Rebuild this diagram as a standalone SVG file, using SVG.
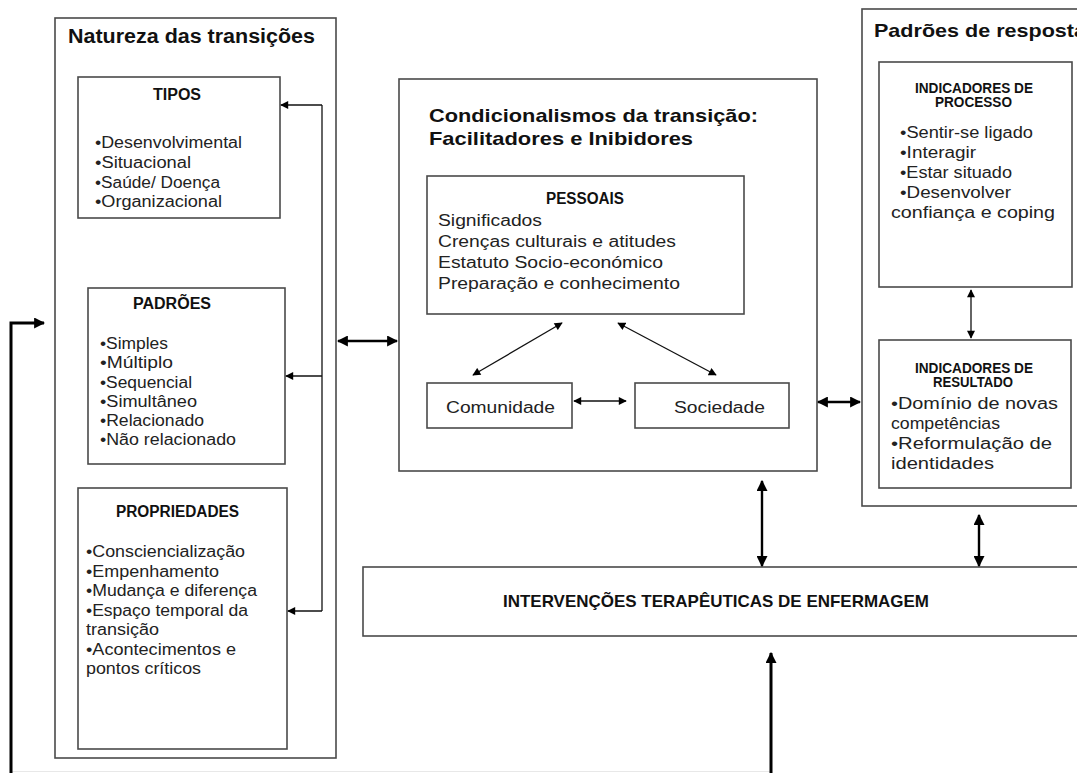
<svg xmlns="http://www.w3.org/2000/svg" width="1077" height="773" viewBox="0 0 1077 773">
<style>
.box{fill:#fff;stroke:#4a4a4a;stroke-width:1.6}
.t{font-family:"Liberation Sans",Arial,sans-serif;font-size:16px;fill:#222}
.b{font-family:"Liberation Sans",Arial,sans-serif;font-weight:bold;fill:#111}
.thin{stroke:#111;stroke-width:1.3;fill:none}
.thick{stroke:#000;stroke-width:3;fill:none}
</style>
<defs>
<marker id="aThin" viewBox="0 0 10 10" refX="9" refY="5" markerWidth="9" markerHeight="8" markerUnits="userSpaceOnUse" orient="auto-start-reverse"><path d="M0,0 L10,5 L0,10 z" fill="#000"/></marker>
<marker id="aThick" viewBox="0 0 10 10" refX="9" refY="5" markerWidth="11" markerHeight="11" markerUnits="userSpaceOnUse" orient="auto-start-reverse"><path d="M0,0 L10,5 L0,10 z" fill="#000"/></marker>
</defs>
<rect x="0" y="0" width="1077" height="773" fill="#fff"/>
<line x1="12" y1="771.5" x2="770" y2="771.5" stroke="#e8e8e8" stroke-width="1"/>

<g id="natureza">
<rect class="box" x="55" y="18" width="281" height="740"/>
<text class="b" x="68" y="43" font-size="20" textLength="247" lengthAdjust="spacingAndGlyphs">Natureza das transições</text>
</g>
<g id="tipos">
<rect class="box" x="78" y="77" width="202" height="141"/>
<text class="b" x="153" y="100" font-size="16" textLength="48" lengthAdjust="spacingAndGlyphs">TIPOS</text>
<text class="t" x="95" y="148" textLength="147" lengthAdjust="spacingAndGlyphs">•Desenvolvimental</text>
<text class="t" x="95" y="168" textLength="96" lengthAdjust="spacingAndGlyphs">•Situacional</text>
<text class="t" x="95" y="188" textLength="125" lengthAdjust="spacingAndGlyphs">•Saúde/ Doença</text>
<text class="t" x="95" y="207" textLength="127" lengthAdjust="spacingAndGlyphs">•Organizacional</text>
</g>
<g id="padroes">
<rect class="box" x="88" y="288" width="197" height="176"/>
<text class="b" x="133" y="309" font-size="16" textLength="78" lengthAdjust="spacingAndGlyphs">PADRÕES</text>
<text class="t" x="100" y="349" textLength="68" lengthAdjust="spacingAndGlyphs">•Simples</text>
<text class="t" x="100" y="368" textLength="73" lengthAdjust="spacingAndGlyphs">•Múltiplo</text>
<text class="t" x="100" y="388" textLength="92" lengthAdjust="spacingAndGlyphs">•Sequencial</text>
<text class="t" x="100" y="407" textLength="97" lengthAdjust="spacingAndGlyphs">•Simultâneo</text>
<text class="t" x="100" y="426" textLength="104" lengthAdjust="spacingAndGlyphs">•Relacionado</text>
<text class="t" x="100" y="445" textLength="136" lengthAdjust="spacingAndGlyphs">•Não relacionado</text>
</g>
<g id="propriedades">
<rect class="box" x="78" y="488" width="209" height="261"/>
<text class="b" x="116" y="517" font-size="16" textLength="123" lengthAdjust="spacingAndGlyphs">PROPRIEDADES</text>
<text class="t" x="86" y="557" textLength="159" lengthAdjust="spacingAndGlyphs">•Consciencialização</text>
<text class="t" x="86" y="577" textLength="133" lengthAdjust="spacingAndGlyphs">•Empenhamento</text>
<text class="t" x="86" y="596" textLength="171" lengthAdjust="spacingAndGlyphs">•Mudança e diferença</text>
<text class="t" x="86" y="616" textLength="162" lengthAdjust="spacingAndGlyphs">•Espaço temporal da</text>
<text class="t" x="86" y="635" textLength="73" lengthAdjust="spacingAndGlyphs">transição</text>
<text class="t" x="86" y="655" textLength="150" lengthAdjust="spacingAndGlyphs">•Acontecimentos e</text>
<text class="t" x="86" y="674" textLength="115" lengthAdjust="spacingAndGlyphs">pontos críticos</text>
</g>

<g id="condicionalismos">
<rect class="box" x="399" y="79" width="418" height="392"/>
<text class="b" x="429" y="122" font-size="19" textLength="329" lengthAdjust="spacingAndGlyphs">Condicionalismos  da transição:</text>
<text class="b" x="429" y="145" font-size="19" textLength="264" lengthAdjust="spacingAndGlyphs">Facilitadores e Inibidores</text>
</g>
<g id="pessoais">
<rect class="box" x="427" y="176" width="317" height="138"/>
<text class="b" x="546" y="204" font-size="16" textLength="78" lengthAdjust="spacingAndGlyphs">PESSOAIS</text>
<text class="t" x="438" y="226" font-size="17" textLength="104" lengthAdjust="spacingAndGlyphs">Significados</text>
<text class="t" x="438" y="247" font-size="17" textLength="238" lengthAdjust="spacingAndGlyphs">Crenças culturais e atitudes</text>
<text class="t" x="438" y="268" font-size="17" textLength="225" lengthAdjust="spacingAndGlyphs">Estatuto Socio-económico</text>
<text class="t" x="438" y="289" font-size="17" textLength="242" lengthAdjust="spacingAndGlyphs">Preparação e conhecimento</text>
</g>
<g id="comunidade">
<rect class="box" x="427" y="383" width="145" height="45"/>
<text class="t" x="446" y="413" font-size="17" textLength="109" lengthAdjust="spacingAndGlyphs">Comunidade</text>
</g>
<g id="sociedade">
<rect class="box" x="635" y="383" width="154" height="45"/>
<text class="t" x="674" y="413" font-size="17" textLength="91" lengthAdjust="spacingAndGlyphs">Sociedade</text>
</g>

<g id="padroes-resposta">
<rect class="box" x="862" y="9" width="240" height="497"/>
<text class="b" x="874" y="37" font-size="19" textLength="212" lengthAdjust="spacingAndGlyphs">Padrões de resposta</text>
</g>
<g id="ind-processo">
<rect class="box" x="879" y="62" width="193" height="225"/>
<text class="b" x="915" y="93" font-size="14" textLength="118" lengthAdjust="spacingAndGlyphs">INDICADORES DE</text>
<text class="b" x="935" y="107" font-size="14" textLength="77" lengthAdjust="spacingAndGlyphs">PROCESSO</text>
<text class="t" x="900" y="138" textLength="133" lengthAdjust="spacingAndGlyphs">•Sentir-se ligado</text>
<text class="t" x="900" y="158" textLength="76" lengthAdjust="spacingAndGlyphs">•Interagir</text>
<text class="t" x="900" y="178" textLength="112" lengthAdjust="spacingAndGlyphs">•Estar situado</text>
<text class="t" x="900" y="198" textLength="111" lengthAdjust="spacingAndGlyphs">•Desenvolver</text>
<text class="t" x="891" y="218" textLength="164" lengthAdjust="spacingAndGlyphs">confiança e coping</text>
</g>
<g id="ind-resultado">
<rect class="box" x="879" y="340" width="192" height="148"/>
<text class="b" x="915" y="373" font-size="14" textLength="118" lengthAdjust="spacingAndGlyphs">INDICADORES DE</text>
<text class="b" x="933" y="387" font-size="14" textLength="80" lengthAdjust="spacingAndGlyphs">RESULTADO</text>
<text class="t" x="891" y="409" textLength="167" lengthAdjust="spacingAndGlyphs">•Domínio de novas</text>
<text class="t" x="891" y="429" textLength="109" lengthAdjust="spacingAndGlyphs">competências</text>
<text class="t" x="891" y="449" textLength="161" lengthAdjust="spacingAndGlyphs">•Reformulação de</text>
<text class="t" x="891" y="469" textLength="103" lengthAdjust="spacingAndGlyphs">identidades</text>
</g>

<g id="intervencoes">
<rect class="box" x="363" y="567" width="740" height="69"/>
<text class="b" x="503" y="607" font-size="17" textLength="426" lengthAdjust="spacingAndGlyphs">INTERVENÇÕES TERAPÊUTICAS DE ENFERMAGEM</text>
</g>

<g id="connectors">
<polyline class="thin" points="322,105 322,611"/>
<line class="thin" x1="322" y1="105" x2="281" y2="105" marker-end="url(#aThin)"/>
<line class="thin" x1="322" y1="376" x2="286" y2="376" marker-end="url(#aThin)"/>
<line class="thin" x1="322" y1="611" x2="288" y2="611" marker-end="url(#aThin)"/>
<polyline class="thick" points="11,773 11,323 44,323" marker-end="url(#aThick)"/>
<line x1="338" y1="341" x2="397" y2="341" stroke="#000" stroke-width="2.4" marker-start="url(#aThick)" marker-end="url(#aThick)"/>
<line x1="818" y1="402" x2="860" y2="402" stroke="#000" stroke-width="2.4" marker-start="url(#aThick)" marker-end="url(#aThick)"/>
<line class="thin" x1="562" y1="323" x2="473" y2="375" marker-start="url(#aThin)" marker-end="url(#aThin)"/>
<line class="thin" x1="618" y1="323" x2="716" y2="375" marker-start="url(#aThin)" marker-end="url(#aThin)"/>
<line class="thin" x1="574" y1="401" x2="626" y2="401" marker-start="url(#aThin)" marker-end="url(#aThin)"/>
<line class="thin" x1="971" y1="290" x2="971" y2="338" marker-start="url(#aThin)" marker-end="url(#aThin)"/>
<line x1="762" y1="481" x2="762" y2="566" stroke="#000" stroke-width="2.4" marker-start="url(#aThick)" marker-end="url(#aThick)"/>
<line x1="979" y1="515" x2="979" y2="566" stroke="#000" stroke-width="2.4" marker-start="url(#aThick)" marker-end="url(#aThick)"/>
<line x1="771" y1="773" x2="771" y2="653" stroke="#000" stroke-width="3" marker-end="url(#aThick)"/>
</g>
</svg>
